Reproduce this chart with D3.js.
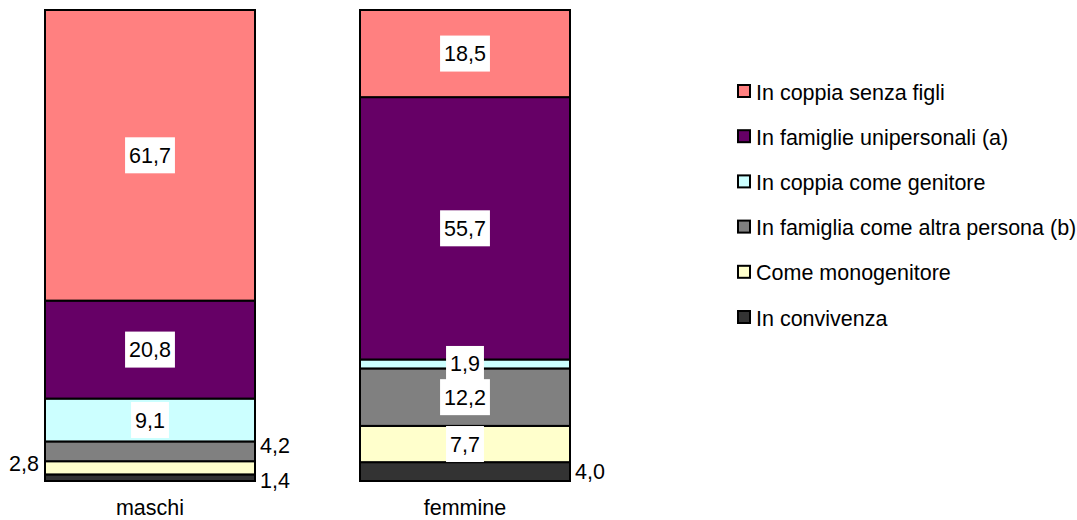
<!DOCTYPE html>
<html>
<head>
<meta charset="utf-8">
<script src="https://cdn.jsdelivr.net/npm/d3@7"></script>
<style>
  html, body { margin: 0; padding: 0; background: #fff; }
  svg { display: block; font-family: "Liberation Sans", Arial, sans-serif; }
</style>
</head>
<body>
<svg id="chart" width="1077" height="520"></svg>
<script>
// Gruppi (barre) e tipologie (segmenti, dal basso verso l'alto)
const groups = ["maschi", "femmine"];
const series = [
  "In convivenza",
  "Come monogenitore",
  "In famiglia come altra persona (b)",
  "In coppia come genitore",
  "In famiglie unipersonali (a)",
  "In coppia senza figli"
];
const maschi  = [1.4, 2.8, 4.2, 9.1, 20.8, 61.7];
const femmine = [4.0, 7.7, 12.2, 1.9, 55.7, 18.5];
const colors  = ["#333333", "#FFFFCC", "#808080", "#CCFFFF", "#660066", "#FF8080"];
// Ordine della legenda (dall'alto)
const legendOrder = [
  "In coppia senza figli",
  "In famiglie unipersonali (a)",
  "In coppia come genitore",
  "In famiglia come altra persona (b)",
  "Come monogenitore",
  "In convivenza"
];

const values = { maschi, femmine };
const svg = d3.select("#chart");
const fmt = v => d3.format(".1f")(v).replace(".", ",");
const FS = 21.5;

const x = d3.scaleBand().domain(groups).range([45, 570]).paddingInner(1 / 3).paddingOuter(0);
const y = d3.scaleLinear().domain([0, 100]).range([481, 10]);
const color = d3.scaleOrdinal().domain(series).range(colors);

// Dati impilati
const rows = groups.map(g => {
  const r = { group: g };
  series.forEach((s, i) => r[s] = values[g][i]);
  return r;
});
const stacked = d3.stack().keys(series)(rows);

// Segmenti
const layers = svg.append("g").selectAll("g").data(stacked).join("g")
  .attr("fill", d => color(d.key));
layers.selectAll("rect").data(d => d.map(p => ({ key: d.key, p })))
  .join("rect")
  .attr("x", d => x(d.p.data.group))
  .attr("width", x.bandwidth())
  .attr("y", d => y(d.p[1]))
  .attr("height", d => y(d.p[0]) - y(d.p[1]))
  .attr("stroke", "#000")
  .attr("stroke-width", 2);

// Etichette: interne con sfondo bianco, esterne per i segmenti piccoli
const outside = {
  "maschi|In convivenza": { side: "right", dy: 3 },
  "maschi|Come monogenitore": { side: "left", dy: -4 },
  "maschi|In famiglia come altra persona (b)": { side: "right", dy: -6 },
  "femmine|In convivenza": { side: "right", dy: 0 }
};
const labels = [];
stacked.forEach(layer => layer.forEach(p => {
  labels.push({ key: layer.key, group: p.data.group, v: p[1] - p[0], y0: p[0], y1: p[1] });
}));
const lg = svg.append("g").attr("font-size", FS);
labels.forEach(d => {
  const cy = (y(d.y0) + y(d.y1)) / 2;
  const o = outside[d.group + "|" + d.key];
  const txt = fmt(d.v);
  if (o) {
    const tx = o.side === "right" ? x(d.group) + x.bandwidth() + 5 : x(d.group) - 6;
    lg.append("text").attr("x", tx).attr("y", cy + o.dy)
      .attr("dy", "0.35em")
      .attr("text-anchor", o.side === "right" ? "start" : "end")
      .attr("fill", "#000").text(txt);
  } else {
    const cx = x(d.group) + x.bandwidth() / 2;
    const t = lg.append("text").attr("x", cx).attr("y", cy).attr("dy", "0.35em")
      .attr("text-anchor", "middle").attr("fill", "#000").text(txt);
    const w = t.node().getComputedTextLength();
    lg.insert("rect", function () { return t.node(); })
      .attr("x", cx - w / 2 - 4).attr("width", w + 8)
      .attr("y", cy - 18).attr("height", 36)
      .attr("fill", "#fff");
  }
});

// Etichette delle categorie
svg.append("g").selectAll("text").data(groups).join("text")
  .attr("x", d => x(d) + x.bandwidth() / 2)
  .attr("y", 515)
  .attr("text-anchor", "middle")
  .attr("font-size", FS)
  .text(d => d);

// Legenda
const leg = svg.append("g").attr("transform", "translate(737,0)");
const item = leg.selectAll("g").data(legendOrder).join("g")
  .attr("transform", (d, i) => `translate(0,${91 + i * 45.2})`);
item.append("rect")
  .attr("x", 1).attr("y", -6).attr("width", 12).attr("height", 12)
  .attr("fill", d => color(d)).attr("stroke", "#000").attr("stroke-width", 2);
item.append("text")
  .attr("x", 19).attr("y", 1).attr("dy", "0.35em")
  .attr("font-size", FS).text(d => d);
</script>
</body>
</html>
